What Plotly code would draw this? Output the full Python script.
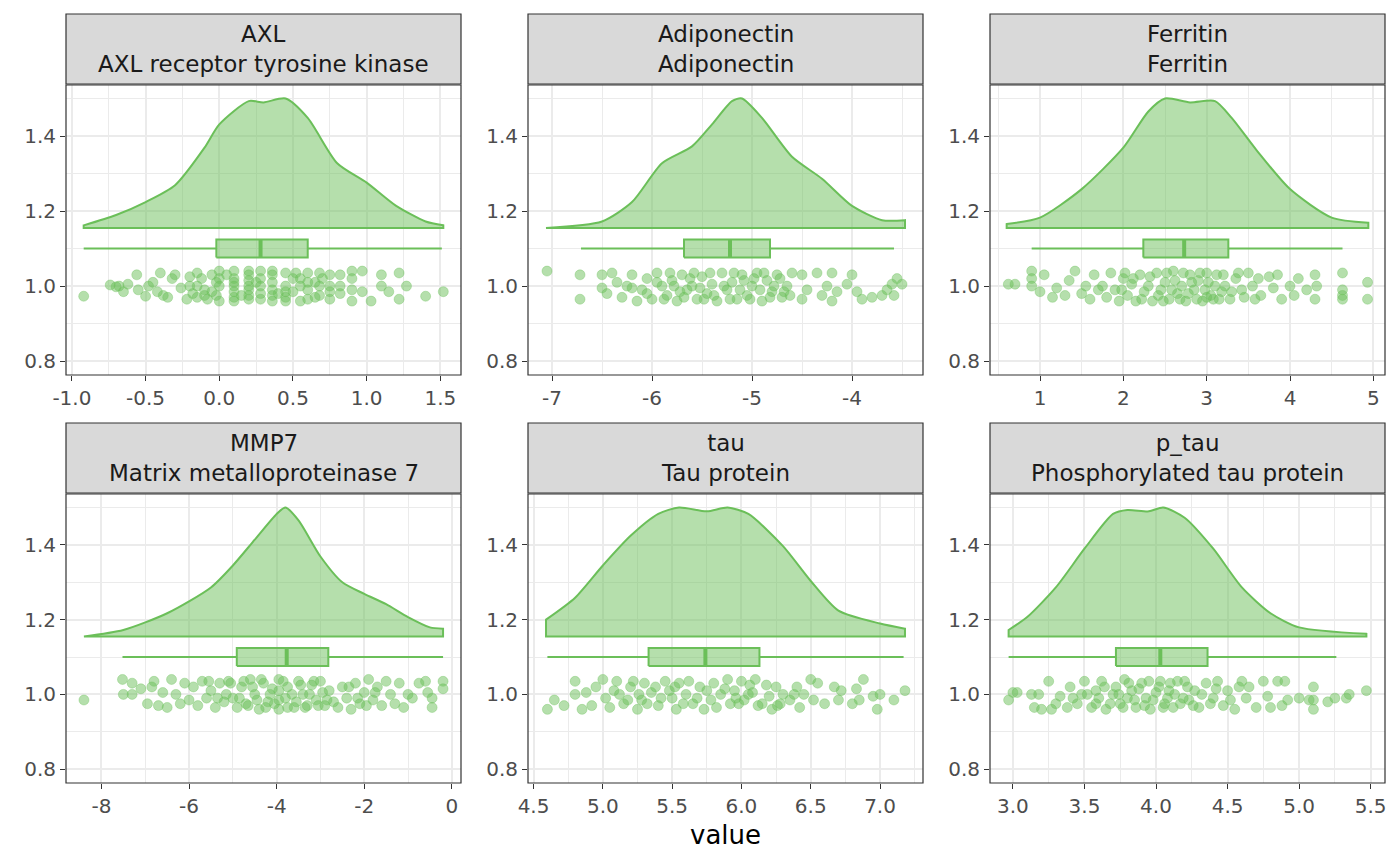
import plotly.graph_objects as go

W, H = 1384, 850   # page body has an 8px margin
OFF = 8
GREEN = "rgb(107,191,89)"
FILL = "rgba(107,191,89,0.5)"

titles = ["AXL<br>AXL receptor tyrosine kinase", "Adiponectin<br>Adiponectin", "Ferritin<br>Ferritin",
          "MMP7<br>Matrix metalloproteinase 7", "tau<br>Tau protein", "p_tau<br>Phosphorylated tau protein"]

# density outlines: x positions and relative heights (0..1)
dens_axl_x = [-0.92, -0.7, -0.5, -0.3, -0.1, 0.0, 0.2, 0.3, 0.45, 0.6, 0.8, 1.0, 1.2, 1.4, 1.52]
dens_axl_h = [0.02, 0.1, 0.2, 0.33, 0.62, 0.8, 0.98, 0.97, 1.0, 0.85, 0.5, 0.35, 0.17, 0.05, 0.02]
dens_adi_x = [-7.06, -6.5, -6.2, -5.9, -5.6, -5.4, -5.2, -5.1, -4.9, -4.6, -4.3, -4.0, -3.7, -3.47]
dens_adi_h = [0.0, 0.05, 0.2, 0.5, 0.63, 0.8, 0.98, 1.0, 0.85, 0.55, 0.38, 0.17, 0.06, 0.06]
dens_fer_x = [0.6, 1.0, 1.5, 2.0, 2.3, 2.5, 2.8, 3.1, 3.3, 3.6, 4.0, 4.5, 4.94]
dens_fer_h = [0.03, 0.08, 0.3, 0.62, 0.9, 1.0, 0.97, 0.98, 0.85, 0.6, 0.3, 0.08, 0.04]
dens_mmp_x = [-8.4, -7.5, -6.5, -5.5, -5.0, -4.5, -4.0, -3.8, -3.5, -3.0, -2.5, -2.0, -1.5, -1.0, -0.5, -0.2]
dens_mmp_h = [0.0, 0.05, 0.18, 0.38, 0.55, 0.75, 0.95, 1.0, 0.9, 0.62, 0.42, 0.33, 0.25, 0.15, 0.07, 0.06]
dens_tau_x = [4.59, 4.8, 5.0, 5.2, 5.4, 5.55, 5.75, 5.9, 6.05, 6.3, 6.5, 6.7, 7.0, 7.18]
dens_tau_h = [0.13, 0.3, 0.55, 0.78, 0.95, 1.0, 0.97, 1.0, 0.95, 0.7, 0.43, 0.2, 0.1, 0.06]
dens_ptau_x = [2.97, 3.1, 3.3, 3.5, 3.7, 3.8, 3.95, 4.05, 4.2, 4.4, 4.6, 4.8, 5.0, 5.47]
dens_ptau_h = [0.05, 0.15, 0.38, 0.68, 0.95, 0.98, 0.97, 1.0, 0.92, 0.68, 0.38, 0.18, 0.07, 0.02]

# box stats: whisker low, q1, median, q3, whisker high
box_axl = [-0.92, -0.02, 0.28, 0.60, 1.51]
box_adi = [-6.71, -5.68, -5.22, -4.82, -3.58]
box_fer = [0.90, 2.24, 2.73, 3.26, 4.63]
box_mmp = [-7.52, -4.91, -3.77, -2.82, -0.20]
box_tau = [4.60, 5.33, 5.74, 6.13, 7.17]
box_ptau = [2.97, 3.72, 4.03, 4.36, 5.26]

pts_axl = [(-0.92,.973),(-0.74,1.003),(-0.7,.998),(-0.68,1.0),(-0.65,.985),(-0.62,1.005),(-0.56,1.03),(-0.55,.99),(-0.5,.973),(-0.48,1.0),(-0.45,1.01),(-0.42,.985),(-0.4,1.035),(-0.38,.975),(-0.35,.97),(-0.32,1.02),(-0.3,1.03),(-0.26,.995),(-0.22,.965),(-0.2,1.0),(-0.18,.98),(-0.15,1.035),(-0.15,.97),(-0.15,1.0),(-0.1,.99),(-0.08,.965),(-0.05,1.03),(-0.02,.975),(-0.02,1.01),(0.0,.96),(0.0,1.04),(0.1,.97),(0.1,1.0),(0.1,1.04),(0.1,.96),(0.1,1.02),(0.2,.965),(0.2,.99),(0.2,1.04),(0.2,1.015),(0.2,.975),(0.28,1.04),(0.28,.98),(0.28,1.0),(0.36,.96),(0.36,1.03),(0.36,.99),(0.36,1.01),(0.45,.97),(0.45,1.035),(0.45,1.0),(0.5,.985),(0.55,1.02),(0.55,.96),(0.6,1.035),(0.6,.99),(0.6,.965),(0.65,1.01),(0.68,.975),(0.68,1.035),(0.75,1.0),(0.75,.965),(0.75,1.03),(0.82,.98),(0.82,1.03),(0.9,1.04),(0.9,.99),(0.9,.96),(0.97,1.04),(0.97,.985),(1.03,.96),(1.1,1.0),(1.1,1.03),(1.15,.985),(1.22,1.035),(1.22,.965),(1.27,1.0),(1.4,.973),(1.52,.985),
            (-0.12,1.02),(-0.05,.985),(0.0,1.0),(0.0,1.02),(0.1,.985),(0.1,1.01),(0.2,1.0),(0.2,1.03),(0.28,.965),(0.28,1.02),(0.36,.975),(0.36,1.04),(0.45,.985),(0.45,.96),(0.5,1.02),(0.55,1.0),(0.6,1.01),(0.65,.97),(0.68,1.0),(0.75,.985),(0.82,1.0),(0.9,1.02),(-0.2,1.025),(-0.1,.975),(0.05,1.03),(0.15,.975),(0.25,1.01),(0.4,.98),(0.52,1.035),(0.7,1.02)]
pts_adi = [(-7.05,1.04),(-6.72,1.03),(-6.72,.965),(-6.5,1.03),(-6.5,.995),(-6.45,.98),(-6.4,1.035),(-6.35,1.01),(-6.3,.97),(-6.25,1.0),(-6.2,1.03),(-6.15,.96),(-6.1,.99),(-6.05,1.02),(-6.0,.965),(-5.95,1.035),(-5.9,1.0),(-5.85,.975),(-5.8,1.015),(-5.75,.96),(-5.7,1.03),(-5.65,.99),(-5.6,1.0),(-5.55,.965),(-5.5,1.025),(-5.45,.98),(-5.4,1.005),(-5.35,.96),(-5.3,1.035),(-5.25,.99),(-5.2,1.01),(-5.15,.965),(-5.1,1.03),(-5.05,.975),(-5.0,1.0),(-4.95,1.035),(-4.9,.96),(-4.85,1.015),(-4.8,.985),(-4.75,1.03),(-4.7,.97),(-4.65,1.0),(-4.6,1.035),(-4.5,.965),(-4.5,1.03),(-4.45,.99),(-4.35,1.035),(-4.3,.975),(-4.25,1.0),(-4.2,1.035),(-4.2,.96),(-4.15,.985),(-4.05,1.005),(-4.0,1.03),(-3.95,.985),(-3.9,.965),(-3.8,.97),(-3.7,.975),(-3.65,.99),(-3.6,1.005),(-3.55,1.02),(-3.5,1.005),(-3.58,.975),
            (-6.05,.98),(-5.95,1.01),(-5.88,.965),(-5.82,1.035),(-5.72,.985),(-5.62,1.02),(-5.52,.995),(-5.42,1.035),(-5.38,.975),(-5.28,1.0),(-5.22,.965),(-5.18,1.035),(-5.12,.99),(-5.08,1.015),(-5.02,.965),(-4.98,1.02),(-4.92,.99),(-4.88,1.035),(-4.82,.97),(-4.78,1.0),(-4.72,1.02),(-4.68,.985),(-5.48,.965),(-5.58,1.035),(-5.68,.97),(-5.78,1.0),(-6.2,.995),(-4.62,.975)]
pts_fer = [(0.62,1.005),(0.7,1.005),(0.9,1.04),(0.9,1.02),(0.9,1.0),(1.0,.985),(1.05,1.03),(1.15,.97),(1.2,.995),(1.3,.975),(1.35,1.015),(1.42,1.04),(1.5,.98),(1.55,1.0),(1.6,.965),(1.65,1.03),(1.7,.99),(1.75,1.0),(1.8,.97),(1.85,1.035),(1.9,.99),(1.95,.96),(2.0,1.02),(2.05,.975),(2.1,1.005),(2.15,.96),(2.2,1.03),(2.25,.985),(2.3,1.0),(2.35,.96),(2.4,1.035),(2.45,.99),(2.5,1.01),(2.55,.965),(2.6,1.04),(2.65,.98),(2.7,1.0),(2.75,.96),(2.8,1.03),(2.85,.99),(2.9,1.015),(2.95,.96),(3.0,1.035),(3.05,.975),(3.1,1.0),(3.15,.965),(3.2,1.03),(3.3,.985),(3.35,1.02),(3.45,.97),(3.5,1.035),(3.55,1.0),(3.65,.975),(3.75,1.025),(3.8,.995),(3.85,1.03),(3.9,.965),(4.0,1.0),(4.05,.975),(4.1,1.02),(4.2,.99),(4.3,1.03),(4.3,.965),(4.32,1.0),(4.63,1.035),(4.63,.99),(4.63,.965),(4.63,.975),(4.93,1.01),(4.93,.965),
            (2.12,1.02),(2.22,.965),(2.32,1.025),(2.42,.975),(2.52,1.035),(2.58,.99),(2.62,1.015),(2.68,.965),(2.72,1.035),(2.78,.98),(2.82,1.01),(2.88,.965),(2.92,1.035),(2.98,.99),(3.02,1.01),(3.08,.965),(3.12,1.03),(3.18,.985),(3.22,1.0),(3.28,.965),(3.38,1.035),(3.42,.99),(1.98,.99),(2.02,1.035),(3.58,.965),(3.62,1.02),(2.48,.96),(3.0,.97)]
pts_mmp = [(-8.4,.985),(-7.52,1.04),(-7.5,1.0),(-7.3,1.03),(-7.3,1.0),(-7.1,1.015),(-6.95,.975),(-6.85,1.02),(-6.8,1.035),(-6.7,.97),(-6.6,1.005),(-6.5,.965),(-6.4,1.04),(-6.3,1.0),(-6.2,.975),(-6.1,1.03),(-6.0,.985),(-5.9,1.02),(-5.8,.97),(-5.7,1.035),(-5.6,.99),(-5.5,1.01),(-5.4,.965),(-5.3,1.03),(-5.2,.98),(-5.1,1.035),(-5.0,.99),(-4.9,.965),(-4.8,1.02),(-4.7,.975),(-4.6,1.04),(-4.5,1.0),(-4.4,.96),(-4.3,1.03),(-4.2,.98),(-4.1,1.015),(-3.95,.96),(-3.95,1.04),(-3.8,.99),(-3.75,1.02),(-3.6,.965),(-3.5,1.035),(-3.4,1.0),(-3.3,.97),(-3.2,1.025),(-3.1,.985),(-3.0,1.035),(-2.9,.97),(-2.8,1.01),(-2.7,.98),(-2.6,.965),(-2.5,1.02),(-2.4,.99),(-2.3,.96),(-2.2,1.03),(-2.1,.975),(-2.0,1.005),(-1.9,1.04),(-1.8,.985),(-1.7,1.02),(-1.6,.97),(-1.5,1.035),(-1.4,1.0),(-1.3,.975),(-1.2,1.03),(-1.1,.965),(-1.0,1.0),(-0.9,.99),(-0.75,1.03),(-0.6,1.035),(-0.55,1.005),(-0.45,.99),(-0.45,.965),(-0.2,1.035),(-0.2,1.015),
            (-5.15,1.0),(-5.05,1.03),(-4.85,.99),(-4.75,1.035),(-4.65,.97),(-4.55,1.02),(-4.45,.985),(-4.35,1.04),(-4.25,.965),(-4.15,1.0),(-4.05,.975),(-3.95,1.01),(-3.95,.985),(-3.85,1.035),(-3.75,.965),(-3.65,1.0),(-3.55,.98),(-3.45,1.025),(-3.35,.965),(-3.25,1.0),(-3.15,1.035),(-3.05,.97),(-2.95,1.005),(-2.85,.985),(-2.35,1.02),(-2.15,.99),(-1.95,.97),(-1.75,1.005),(-5.35,.99),(-5.55,1.035)]
pts_tau = [(4.6,.96),(4.65,.985),(4.72,.97),(4.8,1.035),(4.8,1.0),(4.85,.96),(4.88,1.005),(4.92,.97),(4.95,1.02),(5.0,1.04),(5.02,.99),(5.05,.965),(5.1,1.035),(5.12,1.0),(5.15,.975),(5.2,1.02),(5.25,.96),(5.28,.985),(5.3,1.03),(5.35,1.005),(5.4,.97),(5.45,1.035),(5.5,.99),(5.53,.96),(5.55,1.03),(5.6,1.0),(5.65,.975),(5.7,1.02),(5.73,.96),(5.78,.985),(5.8,1.03),(5.85,1.0),(5.9,1.04),(5.92,.975),(5.95,1.01),(6.0,1.035),(6.02,.985),(6.05,1.0),(6.1,1.04),(6.15,.975),(6.2,.995),(6.22,.96),(6.25,1.02),(6.3,1.0),(6.35,.985),(6.4,1.02),(6.42,.965),(6.45,1.0),(6.5,1.04),(6.52,.985),(6.55,1.03),(6.6,.975),(6.67,1.02),(6.7,.985),(6.72,1.01),(6.8,.975),(6.83,1.015),(6.85,.985),(6.88,1.04),(6.95,.995),(6.98,.96),(7.0,1.0),(7.1,.985),(7.18,1.01),
            (5.08,1.01),(5.18,.985),(5.22,1.035),(5.32,.975),(5.38,1.02),(5.42,.99),(5.48,1.01),(5.58,.975),(5.62,1.035),(5.68,.99),(5.75,1.01),(5.82,.965),(5.88,1.015),(5.98,.975),(6.08,1.005),(6.12,.97),(6.18,1.025),(6.28,.975),(5.26,1.0),(5.52,1.02),(5.96,.99),(6.06,1.025),(6.26,.97),(6.38,1.0)]
pts_ptau = [(2.97,.985),(3.0,1.005),(3.03,1.005),(3.13,1.0),(3.15,.965),(3.18,1.0),(3.2,.96),(3.25,1.035),(3.27,.96),(3.3,.975),(3.33,.995),(3.38,.965),(3.4,1.02),(3.45,.975),(3.48,1.0),(3.5,1.035),(3.55,.965),(3.58,1.01),(3.6,.99),(3.62,1.035),(3.65,.96),(3.7,1.0),(3.72,1.02),(3.75,.975),(3.78,1.04),(3.8,.99),(3.83,1.01),(3.86,.965),(3.9,1.03),(3.93,.99),(3.96,.96),(4.0,1.005),(4.03,1.035),(4.05,.965),(4.08,.99),(4.1,1.03),(4.13,1.0),(4.17,.975),(4.2,1.035),(4.23,.985),(4.27,1.01),(4.3,.965),(4.35,1.03),(4.4,.99),(4.43,1.035),(4.47,.97),(4.5,1.01),(4.55,.96),(4.6,1.035),(4.63,.99),(4.65,1.02),(4.7,.965),(4.75,1.035),(4.78,.995),(4.8,.965),(4.85,1.035),(4.88,.97),(4.9,1.035),(4.92,.985),(5.0,.99),(5.07,.985),(5.1,1.02),(5.1,.96),(5.1,.985),(5.2,.98),(5.25,.99),(5.33,.99),(5.35,1.0),(5.47,1.01),
            (3.52,1.0),(3.64,1.02),(3.68,.975),(3.74,1.0),(3.77,.965),(3.81,1.03),(3.85,.985),(3.88,1.015),(3.92,.97),(3.95,1.035),(3.98,.985),(4.02,1.02),(4.06,.975),(4.09,1.01),(4.12,.965),(4.15,1.035),(4.19,.99),(4.22,1.02),(4.26,.97),(4.32,1.0),(4.38,.975),(4.42,1.015),(4.52,.985),(4.58,1.02),(3.42,.99),(3.58,.975)]

xticks = [[-1.0, -0.5, 0.0, 0.5, 1.0, 1.5], [-7, -6, -5, -4], [1, 2, 3, 4, 5],
          [-8, -6, -4, -2, 0], [4.5, 5.0, 5.5, 6.0, 6.5, 7.0], [3.0, 3.5, 4.0, 4.5, 5.0, 5.5]]
xticklabels = [["-1.0", "-0.5", "0.0", "0.5", "1.0", "1.5"], ["-7", "-6", "-5", "-4"], ["1", "2", "3", "4", "5"],
               ["-8", "-6", "-4", "-2", "0"], ["4.5", "5.0", "5.5", "6.0", "6.5", "7.0"], ["3.0", "3.5", "4.0", "4.5", "5.0", "5.5"]]
xranges = [[-1.04, 1.64], [-7.24, -3.29], [0.4, 5.14], [-8.81, 0.21], [4.46, 7.31], [2.84, 5.6]]
yticks = [0.8, 1.0, 1.2, 1.4]
yticklabels = ["0.8", "1.0", "1.2", "1.4"]
yrange = [0.763, 1.536]

dens = [(dens_axl_x, dens_axl_h), (dens_adi_x, dens_adi_h), (dens_fer_x, dens_fer_h),
        (dens_mmp_x, dens_mmp_h), (dens_tau_x, dens_tau_h), (dens_ptau_x, dens_ptau_h)]
boxes = [box_axl, box_adi, box_fer, box_mmp, box_tau, box_ptau]
pts = [pts_axl, pts_adi, pts_fer, pts_mmp, pts_tau, pts_ptau]

BASE, SCALE, BOXY, BOXH = 1.155, 0.345, 1.1, 0.024
colpx = [(66, 461), (528, 923), (990, 1385)]
rowpx = [(85, 375), (494, 783)]
strippx = [(14, 84), (423, 493)]

def fx(p):
    return (p - OFF) / W

def fy(p):
    return 1 - (p - OFF) / H

fig = go.Figure()
shapes, annotations = [], []
for i in range(6):
    r, c = divmod(i, 3)
    ax = "" if i == 0 else str(i + 1)
    xa, ya = "x" + ax, "y" + ax
    dx, dh = dens[i]
    yy = [BASE + SCALE * h for h in dh]
    # repeated corner vertices keep the spline corners sharp
    px = [dx[0]] * 3 + dx + [dx[-1]] * 3 + [dx[-1], dx[0], dx[0], dx[0]]
    py = [BASE, BASE, yy[0]] + yy + [yy[-1], BASE, BASE] + [BASE, BASE, BASE, BASE]
    fig.add_trace(go.Scatter(x=px, y=py, fill="toself", fillcolor=FILL, mode="lines",
                             line=dict(color=GREEN, width=2, shape="spline", smoothing=0.7),
                             xaxis=xa, yaxis=ya, hoverinfo="skip"))
    lo, q1, md, q3, hi = boxes[i]
    fig.add_trace(go.Scatter(x=[lo, q1, None, q3, hi], y=[BOXY] * 5, mode="lines",
                             line=dict(color=GREEN, width=2), xaxis=xa, yaxis=ya))
    fig.add_trace(go.Scatter(x=[q1, q3, q3, q1, q1], y=[BOXY - BOXH, BOXY - BOXH, BOXY + BOXH, BOXY + BOXH, BOXY - BOXH],
                             fill="toself", fillcolor=FILL, mode="lines", line=dict(color=GREEN, width=2),
                             xaxis=xa, yaxis=ya))
    fig.add_trace(go.Scatter(x=[md, md], y=[BOXY - BOXH, BOXY + BOXH], mode="lines",
                             line=dict(color=GREEN, width=4), xaxis=xa, yaxis=ya))
    fig.add_trace(go.Scatter(x=[p[0] for p in pts[i]], y=[p[1] for p in pts[i]], mode="markers",
                             marker=dict(size=10, color="rgba(107,191,89,0.5)",
                                         line=dict(color="rgba(107,191,89,0.35)", width=1)),
                             xaxis=xa, yaxis=ya))
    x0, x1 = colpx[c]
    y0, y1 = rowpx[r]
    s0, s1 = strippx[r]
    major = xticks[i][1] - xticks[i][0]
    minor_vals = [v - major / 2 for v in xticks[i]] + [xticks[i][-1] + major / 2]
    fig.update_layout(**{
        "xaxis" + ax: dict(domain=[fx(x0), fx(x1)], range=xranges[i], anchor=ya,
                           tickvals=xticks[i], ticktext=xticklabels[i], ticks="outside", ticklen=5,
                           tickcolor="#333333", tickfont=dict(size=20, color="#4D4D4D"),
                           showgrid=True, gridcolor="#EBEBEB", gridwidth=1.7, zeroline=False,
                           showline=False, automargin=False,
                           minor=dict(tickvals=minor_vals, showgrid=True, gridcolor="#EBEBEB", gridwidth=0.9, ticks="")),
        "yaxis" + ax: dict(domain=[fy(y1), fy(y0)], range=yrange, anchor=xa,
                           tickvals=yticks, ticktext=yticklabels, ticks="outside", ticklen=5,
                           tickcolor="#333333", tickfont=dict(size=20, color="#4D4D4D"),
                           showgrid=True, gridcolor="#EBEBEB", gridwidth=1.7, zeroline=False,
                           showline=False, automargin=False,
                           minor=dict(tickvals=[0.9, 1.1, 1.3, 1.5], showgrid=True, gridcolor="#EBEBEB", gridwidth=0.9, ticks="")),
    })
    shapes.append(dict(type="rect", xref="paper", yref="paper", x0=fx(x0), x1=fx(x1),
                       y0=fy(y1), y1=fy(y0), line=dict(color="#333333", width=1.2), layer="above"))
    shapes.append(dict(type="rect", xref="paper", yref="paper", x0=fx(x0), x1=fx(x1),
                       y0=fy(s1), y1=fy(s0), fillcolor="#D9D9D9", line=dict(color="#333333", width=1.2)))
    annotations.append(dict(xref="paper", yref="paper", x=fx((x0 + x1) / 2), y=fy((s0 + s1) / 2),
                            text=titles[i], showarrow=False, font=dict(size=23, color="#1A1A1A"),
                            xanchor="center", yanchor="middle"))

annotations.append(dict(xref="paper", yref="paper", x=fx((66 + 1385) / 2), y=fy(835), text="value",
                        showarrow=False, font=dict(size=26, color="black"), xanchor="center", yanchor="middle"))

fig.update_layout(width=W, height=H, margin=dict(l=0, r=0, t=0, b=0), showlegend=False,
                  plot_bgcolor="white", paper_bgcolor="white", shapes=shapes, annotations=annotations,
                  font=dict(family="DejaVu Sans"))
fig.write_html("out.html")
